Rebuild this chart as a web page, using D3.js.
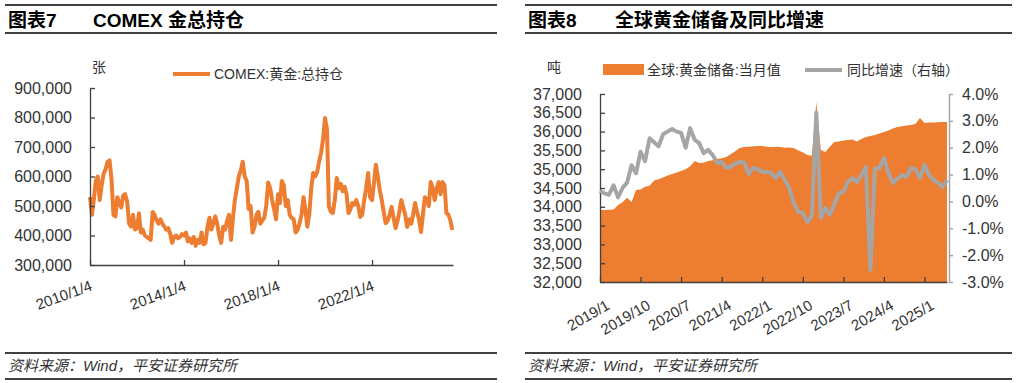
<!DOCTYPE html>
<html><head><meta charset="utf-8">
<script src="https://cdn.jsdelivr.net/npm/d3@7"></script>
<style>
body{margin:0;background:#fff;}
svg{display:block;font-family:"Liberation Sans","Noto Sans CJK SC",sans-serif;}
</style></head><body>
<svg id="c" width="1017" height="383"></svg>
<script>
// ---------- Left chart data: COMEX 黄金 总持仓 (monthly, from 2010/1/4) ----------
const leftYTicks = [300000,400000,500000,600000,700000,800000,900000];
const leftTickLabels = ["2010/1/4","2014/1/4","2018/1/4","2022/1/4"];
const openInterest = [
530000,470000,520000,585000,600000,520000,570000,610000,625000,650000,655000,590000,
470000,465000,530000,510000,495000,535000,540000,515000,440000,430000,470000,420000,
425000,475000,410000,420000,400000,395000,390000,385000,480000,470000,450000,440000,
455000,440000,430000,420000,425000,405000,375000,395000,400000,390000,395000,405000,
400000,410000,380000,390000,375000,395000,365000,385000,375000,410000,370000,375000,
430000,460000,420000,440000,465000,440000,400000,375000,430000,420000,450000,470000,
385000,460000,520000,560000,600000,620000,650000,600000,585000,490000,500000,410000,
430000,470000,480000,440000,450000,460000,500000,580000,560000,520000,490000,455000,
540000,510000,585000,570000,500000,520000,470000,460000,455000,410000,420000,440000,
470000,530000,490000,430000,470000,560000,612000,600000,615000,650000,680000,725000,
798000,760000,500000,480000,476000,520000,595000,560000,575000,550000,565000,540000,
476000,490000,510000,505000,520000,500000,463000,470000,520000,560000,612000,530000,
520000,580000,640000,600000,554000,520000,480000,442000,450000,470000,497000,460000,
425000,450000,480000,520000,495000,470000,429000,455000,440000,470000,510000,480000,
455000,412000,470000,530000,520000,500000,581000,560000,520000,560000,581000,540000,
581000,570000,476000,470000,453000,419000
];

// ---------- Right chart data: 全球黄金储备 (吨) 及同比增速 (%) , 2019/1 - 2025/6 ----------
const rightTickLabels = ["2019/1","2019/10","2020/7","2021/4","2022/1","2022/10","2023/7","2024/4","2025/1"];
const reserveTicks = [32000,32500,33000,33500,34000,34500,35000,35500,36000,36500,37000];
const growthTicks = [-3,-2,-1,0,1,2,3,4];
const goldReserves = [
33915,33915,33920,33925,34050,34120,34240,34130,34450,34460,34530,34560,
34700,34730,34780,34830,34870,34910,34950,35000,35080,35220,35165,35170,
35218,35240,35271,35290,35324,35400,35480,35564,35590,35600,35610,35620,
35617,35600,35590,35600,35590,35570,35580,35564,35500,35450,35377,35360,
36787,35511,35457,35600,35723,35740,35760,35777,35790,35740,35800,35856,
35880,35910,35950,35989,36030,36080,36122,36140,36160,36176,36200,36362,
36229,36240,36245,36250,36255,36255
];
const yoyGrowth = [
0.4,0.3,0.25,0.6,0.15,0.5,0.7,1.35,1.05,1.85,1.5,2.35,
2.2,2.05,2.5,2.6,2.7,2.6,2.55,2.0,2.73,2.3,2.17,1.8,
1.92,1.73,1.43,1.47,1.25,1.3,1.4,1.47,1.45,1.02,1.25,1.2,
1.1,1.1,1.06,0.87,1.1,0.8,0.5,-0.06,-0.39,-0.43,-0.77,-0.54,
3.3,-0.62,-0.25,-0.5,-0.1,0.31,0.35,0.72,0.87,0.72,0.98,1.28,
-2.55,1.24,1.24,1.62,1.06,0.69,0.85,0.98,0.91,1.24,1.2,0.87,
1.36,0.98,0.8,0.7,0.54,0.8
];

const ORANGE = "#ED7D31", GREY = "#A5A5A5", AX = "#404040", TXT = "#333";
const svg = d3.select("#c");

// ---------- Frames: titles and footers ----------
function frame(x0, x1, label, title, titleX) {
  const g = svg.append("g");
  g.append("line").attr("x1",x0).attr("x2",x1).attr("y1",5).attr("y2",5).attr("stroke",AX).attr("stroke-width",2);
  g.append("line").attr("x1",x0).attr("x2",x1).attr("y1",33).attr("y2",33).attr("stroke",AX).attr("stroke-width",2);
  g.append("text").attr("x",x0+3).attr("y",27).attr("font-size",19).attr("font-weight","bold").attr("fill","#000").text(label);
  g.append("text").attr("x",titleX).attr("y",27).attr("font-size",19).attr("font-weight","bold").attr("fill","#000").text(title);
  g.append("line").attr("x1",x0).attr("x2",x1).attr("y1",353).attr("y2",353).attr("stroke",AX).attr("stroke-width",2);
  g.append("line").attr("x1",x0).attr("x2",x1).attr("y1",379).attr("y2",379).attr("stroke",AX).attr("stroke-width",2);
  g.append("text").attr("x",x0+3).attr("y",371).attr("font-size",15).attr("font-style","italic").attr("fill",TXT)
    .text("资料来源：Wind，平安证券研究所");
}
frame(5, 497, "图表7", "COMEX 金总持仓", 93);
frame(525, 1012, "图表8", "全球黄金储备及同比增速", 615);

// ---------- Left chart ----------
const leftDates = openInterest.map((_, i) => new Date(2010, i, 4));
const leftTickDates = [new Date(2010,0,4), new Date(2014,0,4), new Date(2018,0,4), new Date(2022,0,4)];
const xL = d3.scaleTime().domain([new Date(2010,0,4), new Date(2025,5,15)]).range([90,453]);
const yL = d3.scaleLinear().domain([300000,900000]).range([265,88]);

const gL = svg.append("g");
gL.append("path").datum(openInterest)
  .attr("fill","none").attr("stroke",ORANGE).attr("stroke-width",4).attr("stroke-linejoin","round")
  .attr("d", d3.line().x((d,i)=>xL(leftDates[i])).y(d=>yL(d)));

const yAxL = gL.append("g").attr("transform","translate(90,0)")
  .call(d3.axisLeft(yL).tickValues(leftYTicks).tickFormat(d3.format(",")).tickSizeInner(-5).tickSizeOuter(0).tickPadding(18));
const xAxL = gL.append("g").attr("transform","translate(0,265)")
  .call(d3.axisBottom(xL).tickValues(leftTickDates).tickFormat((d,i)=>leftTickLabels[i]).tickSizeInner(-5).tickSizeOuter(0));
xAxL.selectAll(".tick text").attr("text-anchor","end").attr("y",0).attr("dy","0.71em")
  .attr("transform","translate(-1,15) rotate(-20)");
[yAxL, xAxL].forEach(a=>{
  a.selectAll("path,line").attr("stroke",AX).attr("stroke-width",1.3);
  a.selectAll("text").attr("font-size",a===yAxL?16:15).attr("fill",TXT).attr("font-family","Liberation Sans, sans-serif");
});

gL.append("text").attr("x",92).attr("y",72).attr("font-size",14).attr("fill",TXT).text("张");
gL.append("line").attr("x1",173).attr("x2",210).attr("y1",74).attr("y2",74).attr("stroke",ORANGE).attr("stroke-width",4);
gL.append("text").attr("x",214).attr("y",79).attr("font-size",14).attr("fill",TXT).text("COMEX:黄金:总持仓");

// ---------- Right chart ----------
const months = d3.range(goldReserves.length);
const tickIdx = rightTickLabels.map((_, i) => i * 9);
const xR = d3.scalePoint().domain(months).range([600,947]);
const yR = d3.scaleLinear().domain([32000,37000]).range([282,94]);
const yR2 = d3.scaleLinear().domain([-3,4]).range([282,94]);

const gR = svg.append("g");
gR.append("path").datum(goldReserves).attr("fill",ORANGE)
  .attr("d", d3.area().x((d,i)=>xR(i)).y0(yR(32000)).y1(d=>yR(d)));

const yAxR = gR.append("g").attr("transform","translate(600,0)")
  .call(d3.axisLeft(yR).tickValues(reserveTicks).tickFormat(d3.format(",")).tickSizeInner(-5).tickSizeOuter(0).tickPadding(18));
const xAxR = gR.append("g").attr("transform","translate(0,282)")
  .call(d3.axisBottom(xR).tickValues(tickIdx).tickFormat((d,i)=>rightTickLabels[i]).tickSizeInner(-5).tickSizeOuter(0));
xAxR.selectAll(".tick text").attr("text-anchor","end").attr("y",0).attr("dy","0.71em")
  .attr("transform","translate(5,17) rotate(-30)");
const yAxR2 = gR.append("g").attr("transform","translate(949,0)")
  .call(d3.axisRight(yR2).tickValues(growthTicks).tickFormat(d=>d.toFixed(1)+"%").tickSizeInner(4).tickSizeOuter(0).tickPadding(9));
[yAxR, xAxR].forEach(a=>{
  a.selectAll("path,line").attr("stroke",AX).attr("stroke-width",1.3);
  a.selectAll("text").attr("font-size",a===yAxR?16:15).attr("fill",TXT).attr("font-family","Liberation Sans, sans-serif");
});
yAxR2.selectAll("path,line").attr("stroke",GREY).attr("stroke-width",1.5);
yAxR2.selectAll("text").attr("font-size",16).attr("fill",TXT).attr("font-family","Liberation Sans, sans-serif");

gR.append("path").datum(yoyGrowth)
  .attr("fill","none").attr("stroke",GREY).attr("stroke-width",4).attr("stroke-linejoin","round")
  .attr("d", d3.line().x((d,i)=>xR(i)).y(d=>yR2(d)));

gR.append("text").attr("x",547).attr("y",72).attr("font-size",14).attr("fill",TXT).text("吨");
gR.append("rect").attr("x",603).attr("y",64).attr("width",41).attr("height",11).attr("fill",ORANGE);
gR.append("text").attr("x",647).attr("y",75).attr("font-size",14).attr("fill",TXT).text("全球:黄金储备:当月值");
gR.append("line").attr("x1",805).attr("x2",842).attr("y1",70).attr("y2",70).attr("stroke",GREY).attr("stroke-width",4);
gR.append("text").attr("x",847).attr("y",75).attr("font-size",14).attr("fill",TXT).text("同比增速（右轴）");
</script>
</body></html>
